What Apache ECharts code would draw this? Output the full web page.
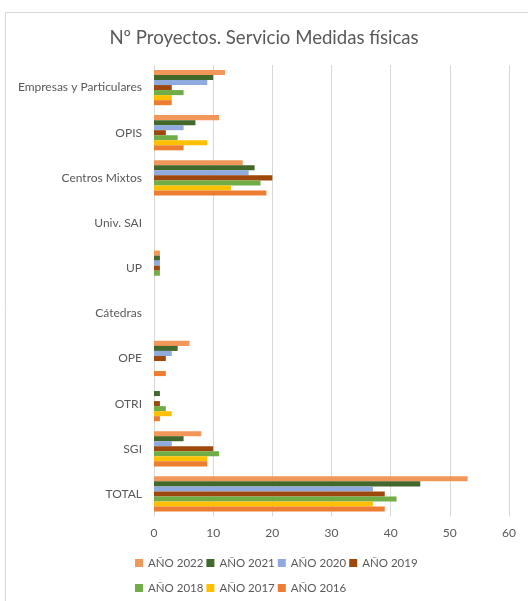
<!DOCTYPE html>
<html><head><meta charset="utf-8">
<script src="https://cdn.jsdelivr.net/npm/echarts@6/dist/echarts.min.js"></script>
<style>html,body{margin:0;padding:0;background:#fff}#c{width:528px;height:601px}</style>
</head><body><div id="c"></div>
<script>
const categories = ['TOTAL','SGI','OTRI','OPE','Cátedras','UP','Univ. SAI','Centros Mixtos','OPIS','Empresas y Particulares'];
const seriesNames = ['AÑO 2022','AÑO 2021','AÑO 2020','AÑO 2019','AÑO 2018','AÑO 2017','AÑO 2016'];
const colors = ['#F1975A','#43682B','#8FAADC','#9E480E','#70AD47','#FFC000','#ED7D31'];
const y2022 = [53, 8, 0, 6, 0, 1, 0, 15, 11, 12];
const y2021 = [45, 5, 1, 4, 0, 1, 0, 17, 7, 10];
const y2020 = [37, 3, 0, 3, 0, 1, 0, 16, 5, 9];
const y2019 = [39, 10, 1, 2, 0, 1, 0, 20, 2, 3];
const y2018 = [41, 11, 2, 0, 0, 1, 0, 18, 4, 5];
const y2017 = [37, 9, 3, 0, 0, 0, 0, 13, 9, 3];
const y2016 = [39, 9, 1, 2, 0, 0, 0, 19, 5, 3];
const values = [y2022, y2021, y2020, y2019, y2018, y2017, y2016];
const xTicks = {min: 0, max: 60, interval: 10};

const font = 'Lato, "Open Sans", sans-serif';
const chart = echarts.init(document.getElementById('c'));
const legendCommon = {
  orient: 'horizontal', left: 135, itemWidth: 8, itemHeight: 8, itemGap: 3,
  icon: 'rect', padding: 0,
  textStyle: {color: '#595959', fontSize: 11.5, fontFamily: font}
};
chart.setOption({
  animation: false,
  color: colors,
  title: {
    text: 'Nº Proyectos. Servicio Medidas físicas',
    left: 'center', top: 28, padding: 0,
    textStyle: {color: '#595959', fontSize: 18.6, fontWeight: 'normal', fontFamily: font}
  },
  graphic: [{
    type: 'rect', silent: true, z: -1,
    shape: {x: 5.5, y: 12.5, width: 700, height: 700},
    style: {fill: 'none', stroke: '#d9d9d9', lineWidth: 1}
  }],
  legend: [
    Object.assign({data: seriesNames.slice(0, 4), top: 557}, legendCommon),
    Object.assign({data: seriesNames.slice(4), top: 582}, legendCommon)
  ],
  grid: {left: 154, right: 19, top: 65, bottom: 84.5, containLabel: false},
  xAxis: {
    type: 'value', min: xTicks.min, max: xTicks.max, interval: xTicks.interval,
    axisLine: {show: false}, axisTick: {show: false},
    splitLine: {lineStyle: {color: '#d9d9d9', width: 1}},
    axisLabel: {color: '#595959', fontSize: 12, fontFamily: font, margin: 11}
  },
  yAxis: {
    type: 'category', data: categories,
    axisLine: {show: false}, axisTick: {show: false},
    axisLabel: {color: '#595959', fontSize: 12, fontFamily: font, margin: 12}
  },
  series: seriesNames.map((n, i) => ({
    name: n, type: 'bar', data: values[i],
    barGap: '0%', barCategoryGap: '22%',
    itemStyle: {color: colors[i]}
  }))
});
</script></body></html>
